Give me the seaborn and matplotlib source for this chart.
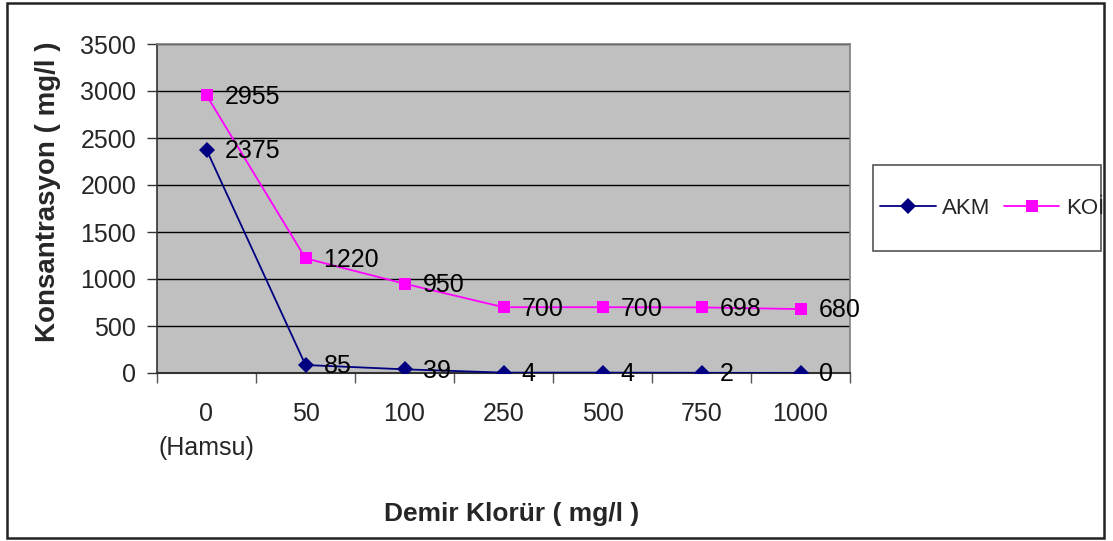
import matplotlib
matplotlib.use("Agg")
import matplotlib.pyplot as plt
from matplotlib.patches import Rectangle
from matplotlib.ticker import FixedLocator, NullFormatter
import seaborn as sns
import pandas as pd

# Ferric chloride doses (category labels) and measured concentrations
doses = ["0\n(Hamsu)", "50", "100", "250", "500", "750", "1000"]
akm = [2375, 85, 39, 4, 4, 2, 0]
koi = [2955, 1220, 950, 700, 700, 698, 680]
series_names = ["AKM", "KOİ"]
series_colors = ["#000080", "#FF00FF"]
series_markers = ["D", "s"]

sns.set_theme(style="white")
plt.rcParams["font.family"] = ["Liberation Sans", "DejaVu Sans"]

df = pd.DataFrame({
    "Doz": doses * 2,
    "Konsantrasyon": akm + koi,
    "Seri": [series_names[0]] * len(doses) + [series_names[1]] * len(doses),
})

fig = plt.figure(figsize=(11.13, 5.41), dpi=100)
ax = fig.add_axes([157 / 1113, 1 - 373 / 541, (850 - 157) / 1113, (373 - 44) / 541])
ax.set_facecolor("#C0C0C0")

sns.lineplot(
    data=df, x="Doz", y="Konsantrasyon", hue="Seri", style="Seri",
    palette=dict(zip(series_names, series_colors)),
    markers=dict(zip(series_names, series_markers)),
    dashes=False, linewidth=1.3, markersize=8.5, markeredgewidth=0,
    sort=False, ax=ax, legend=True, zorder=3,
)

# Value labels to the right of each point
for vals in (akm, koi):
    for i, v in enumerate(vals):
        ax.annotate(str(v), (i, v), xytext=(13, -1), textcoords="offset points",
                    ha="left", va="center", fontsize=18, color="black",
                    zorder=5, annotation_clip=False)

ax.set_xlim(-0.5, len(doses) - 0.5)
ax.set_ylim(0, 3500)
ax.set_yticks(range(0, 3501, 500))
ax.grid(axis="y", color="black", linewidth=1.0)
ax.grid(axis="x", visible=False)
ax.set_axisbelow(True)

ax.tick_params(axis="y", which="major", direction="out", length=7, width=1,
               color="#333333", pad=8, labelsize=18, left=True)
ax.tick_params(axis="x", which="major", length=0, pad=21, labelsize=18)
ax.xaxis.set_minor_locator(FixedLocator([i - 0.5 for i in range(len(doses) + 1)]))
ax.xaxis.set_minor_formatter(NullFormatter())
ax.tick_params(axis="x", which="minor", direction="out", length=7, width=1,
               color="#555555", bottom=True)
for lbl in ax.get_xticklabels():
    lbl.set_linespacing(1.5)

for side in ("top", "right", "left"):
    ax.spines[side].set_color("#808080")
    ax.spines[side].set_linewidth(1.2)
ax.spines["left"].set_color("#333333")
ax.spines["bottom"].set_color("#333333")
ax.spines["bottom"].set_linewidth(1.5)

ax.set_xlabel("")
ax.set_ylabel("")
fig.text(512 / 1113, 1 - 514 / 541, "Demir Klorür ( mg/l )", ha="center",
         va="center", fontsize=19, fontweight="bold")
fig.text(48 / 1113, 1 - 192 / 541, "Konsantrasyon ( mg/l )", ha="center",
         va="center", rotation=90, fontsize=20, fontweight="bold")

# Legend with its own box
handles, labels = ax.get_legend_handles_labels()
ax.get_legend().remove()
fig.patches.append(Rectangle((873 / 1113, 1 - 251 / 541), (1101 - 873) / 1113,
                             (251 - 165) / 541, transform=fig.transFigure,
                             facecolor="white", edgecolor="#555555", linewidth=1.2))
fig.legend(handles, labels, loc="center left",
           bbox_to_anchor=(880 / 1113, 1 - 208 / 541), ncol=2, frameon=False,
           fontsize=16, handlelength=2.5, handletextpad=0.3, columnspacing=0.6,
           borderaxespad=0, borderpad=0)

# Outer figure border
fig.patches.append(Rectangle((6.5 / 1113, 1 - 538 / 541), (1104 - 6.5) / 1113,
                             (538 - 2.5) / 541, transform=fig.transFigure,
                             facecolor="none", edgecolor="#222222", linewidth=1.8))

fig.savefig("out.png", dpi=100)
